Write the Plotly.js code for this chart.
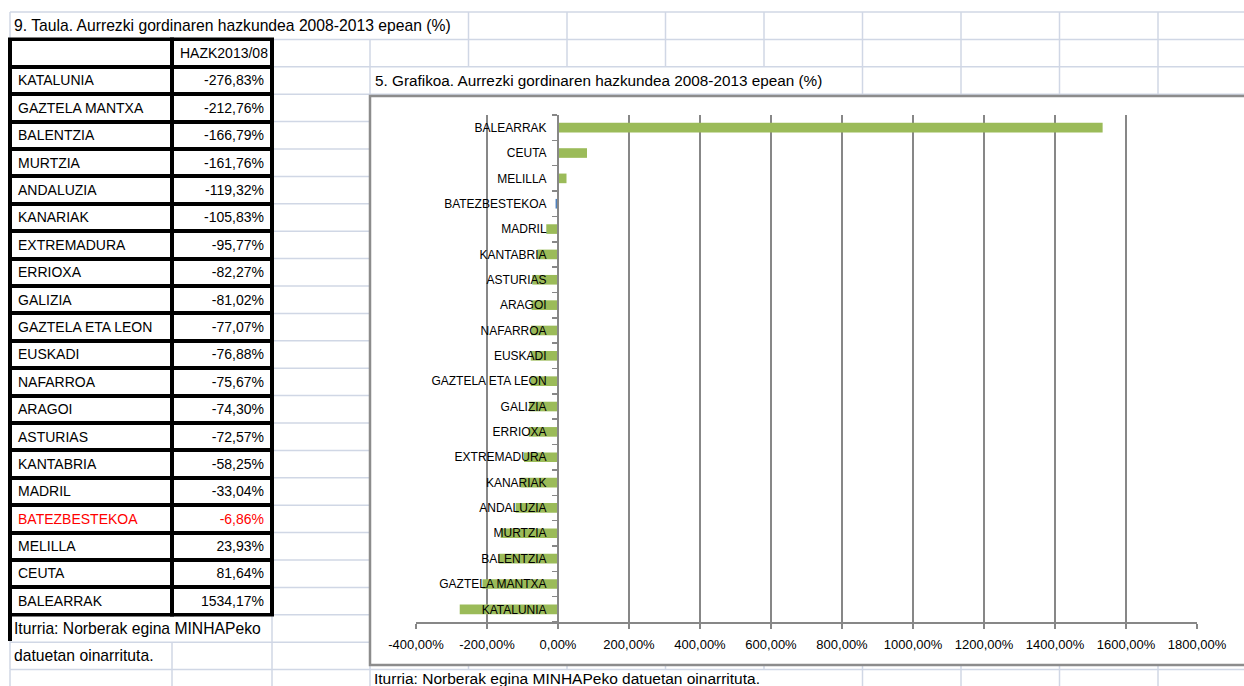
<!DOCTYPE html>
<html>
<head>
<meta charset="utf-8">
<script src="https://cdn.plot.ly/plotly-3.0.1.min.js"></script>
<style>html,body{margin:0;padding:0;background:#fff;}#chart{width:1244px;height:686px;}</style>
</head>
<body>
<div id="chart"></div>
<script>
// ---- data ----
const regions = ['KATALUNIA','GAZTELA MANTXA','BALENTZIA','MURTZIA','ANDALUZIA','KANARIAK','EXTREMADURA','ERRIOXA','GALIZIA','GAZTELA ETA LEON','EUSKADI','NAFARROA','ARAGOI','ASTURIAS','KANTABRIA','MADRIL','BATEZBESTEKOA','MELILLA','CEUTA','BALEARRAK'];
const values = [-276.83,-212.76,-166.79,-161.76,-119.32,-105.83,-95.77,-82.27,-81.02,-77.07,-76.88,-75.67,-74.30,-72.57,-58.25,-33.04,-6.86,23.93,81.64,1534.17];
const highlight = 'BATEZBESTEKOA';
const xTickVals = [-400,-200,0,200,400,600,800,1000,1200,1400,1600,1800];
const tableHeader = ['', 'HAZK2013/08'];
const tableTitle = '9. Taula. Aurrezki gordinaren hazkundea 2008-2013 epean (%)';
const chartTitle = '5. Grafikoa. Aurrezki gordinaren hazkundea 2008-2013 epean (%)';
const sourceA = 'Iturria: Norberak egina MINHAPeko';
const sourceB = 'datuetan oinarrituta.';
const sourceFull = 'Iturria: Norberak egina MINHAPeko datuetan oinarrituta.';
const xRange = [-400, 1800];

// ---- layout helpers ----
const W = 1244, H = 686;
const px = x => x / W;
const py = y => 1 - y / H;
const FONT = 'Liberation Sans, Arial, sans-serif';
const GRID = '#D0D7E5';
const AX = '#878787';

// spreadsheet grid
const cols = [10,172,272,370,468.5,567,665.5,764,862.5,961,1059.5,1158];
const rowH = 27.4, row0 = 12;
const rowY = k => row0 + rowH * k;
const hidden = { // row index -> columns hidden by overflowing text
  0: [172,272,370],
  2: [468.5,567,665.5,764],
  22: [172],
  24: [468.5,567,665.5,764]
};
const shapes = [];
for (let k = 0; k <= 25; k++) {
  shapes.push({type:'line', xref:'paper', yref:'paper', layer:'below',
    x0: px(10), x1: 1, y0: py(rowY(k)), y1: py(rowY(k)),
    line:{color:GRID, width:1.5}});
}
for (const c of cols) {
  for (let r = 0; r < 25; r++) {
    if (hidden[r] && hidden[r].includes(c)) continue;
    shapes.push({type:'line', xref:'paper', yref:'paper', layer:'below',
      x0: px(c), x1: px(c), y0: py(rowY(r)), y1: py(rowY(r+1)),
      line:{color:GRID, width:1.5}});
  }
}
// chart frame
shapes.push({type:'rect', xref:'paper', yref:'paper', layer:'below',
  x0: px(370), x1: px(1262), y0: py(665), y1: py(96),
  fillcolor:'#ffffff', line:{color:'#8C8C8C', width:2.5}});
// left border continuing under table
shapes.push({type:'line', xref:'paper', yref:'paper', layer:'below',
  x0: px(10), x1: px(10), y0: py(rowY(21)), y1: py(641),
  line:{color:'#000', width:4}});

const xDom = [px(416), px(1197)];
const yPos = xDom[0] + (0 - xRange[0]) / (xRange[1] - xRange[0]) * (xDom[1] - xDom[0]);

const fmt = v => v.toFixed(2).replace('.', ',') + '%';
const rowColors = regions.map(r => r === highlight ? '#FF0000' : '#000000');
const barColors = regions.map(r => r === highlight ? '#4F81BD' : '#9BBB59');

const traces = [
  {
    type:'bar', orientation:'h', y: regions, x: values,
    marker:{color: barColors}, hoverinfo:'none', xaxis:'x', yaxis:'y'
  },
  {
    type:'table',
    domain:{x:[px(10), px(272)], y:[py(617), py(rowY(1))]},
    columnwidth:[162, 100],
    header:{values: tableHeader, align:['left','left'], height: rowH,
      line:{color:'#000', width:4}, fill:{color:'#fff'},
      font:{family:FONT, size:14, color:'#000'}},
    cells:{values:[regions, values.map(fmt)], align:['left','right'], height: rowH,
      line:{color:'#000', width:4}, fill:{color:'#fff'},
      font:{family:FONT, size:14, color:[rowColors, rowColors]}}
  }
];

const annotations = [
  {text: tableTitle, x: px(12), y: py(25.5), xanchor:'left', yanchor:'middle', size:15.7},
  {text: chartTitle, x: px(373), y: py(81), xanchor:'left', yanchor:'middle', size:15.3},
  {text: sourceA, x: px(12), y: py(628), xanchor:'left', yanchor:'middle', size:15.7},
  {text: sourceB, x: px(12), y: py(655), xanchor:'left', yanchor:'middle', size:15.7},
  {text: sourceFull, x: px(372), y: py(678), xanchor:'left', yanchor:'middle', size:15.5}
].map(a => {
  const s = a.size; delete a.size;
  return Object.assign({xref:'paper', yref:'paper', showarrow:false,
    font:{family:FONT, size:s, color:'#000'}}, a);
});

const layout = {
  width: W, height: H,
  margin:{l:0, r:0, t:0, b:0},
  paper_bgcolor:'#fff', plot_bgcolor:'rgba(0,0,0,0)',
  showlegend:false,
  font:{family:FONT, color:'#000'},
  bargap:0.62,
  xaxis:{domain:xDom, range:xRange, tickmode:'array', tickvals:xTickVals, ticktext:xTickVals.map(fmt),
    showgrid:true, gridcolor:AX, gridwidth:2, zeroline:false,
    showline:true, linecolor:AX, linewidth:2,
    ticks:'outside', ticklen:5, tickwidth:2, tickcolor:AX, ticklabelstandoff:4,
    tickfont:{family:FONT, size:13, color:'#000'}, fixedrange:true, anchor:'y'},
  yaxis:{domain:[py(622), py(115)], type:'category', categoryorder:'array', categoryarray:regions,
    anchor:'free', position:yPos, side:'left',
    showline:true, linecolor:AX, linewidth:2, showgrid:false, zeroline:false,
    ticks:'outside', tickson:'boundaries', ticklen:5, tickwidth:1.5, tickcolor:AX,
    ticklabelstandoff:8,
    tickfont:{family:FONT, size:12, color:'#000'}, fixedrange:true},
  shapes: shapes,
  annotations: annotations
};

Plotly.newPlot('chart', traces, layout, {displayModeBar:false, staticPlot:true});
</script>
</body>
</html>
